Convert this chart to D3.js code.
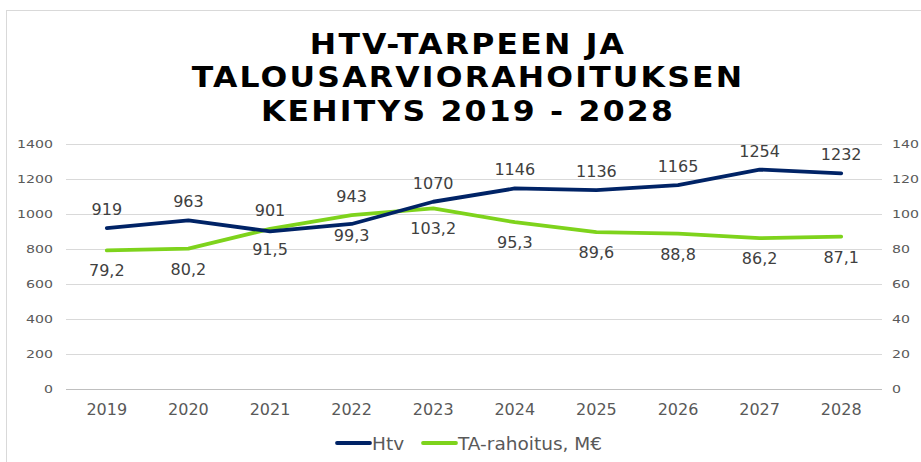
<!DOCTYPE html>
<html>
<head>
<meta charset="utf-8">
<script src="https://cdn.jsdelivr.net/npm/d3@7"></script>
<style>
  body { margin: 0; background: #fff; }
  svg { display: block; }
</style>
</head>
<body>
<div id="chart"></div>
<script>
// Chart data
const years = ['2019', '2020', '2021', '2022', '2023', '2024', '2025', '2026', '2027', '2028'];
const htv = [919, 963, 901, 943, 1070, 1146, 1136, 1165, 1254, 1232];
const taRahoitus = [79.2, 80.2, 91.5, 99.3, 103.2, 95.3, 89.6, 88.8, 86.2, 87.1];
const leftTicks = [0, 200, 400, 600, 800, 1000, 1200, 1400];
const rightTicks = [0, 20, 40, 60, 80, 100, 120, 140];
const titleLines = ['HTV-TARPEEN JA', 'TALOUSARVIORAHOITUKSEN', 'KEHITYS 2019 - 2028'];
const seriesNames = ['Htv', 'TA-rahoitus, M€'];

const colors = { htv: '#002366', ta: '#7ED31C' };
const width = 921, height = 462;
const margin = { left: 66, right: 39, top: 144, bottom: 73 };
const font = '"DejaVu Sans", Verdana, sans-serif';

const svg = d3.select('#chart').append('svg')
    .attr('width', width)
    .attr('height', height);

// Outer frame
svg.append('rect')
    .attr('x', 6.5).attr('y', 10.5)
    .attr('width', 930).attr('height', 470)
    .attr('fill', 'none')
    .attr('stroke', '#d9d9d9');

// Title (widened, spaced letters like the original)
svg.append('g')
    .attr('transform', 'translate(468,0) scale(1.105,1)')
    .selectAll('text')
    .data(titleLines)
    .join('text')
    .attr('x', 0)
    .attr('y', (d, i) => 54 + i * 33.5)
    .attr('text-anchor', 'middle')
    .style('font-family', font)
    .style('font-weight', 'bold')
    .style('font-size', '28.5px')
    .style('letter-spacing', '2px')
    .style('fill', '#000')
    .text(d => d);

const x = d3.scaleBand()
    .domain(years)
    .range([margin.left, width - margin.right]);

const yLeft = d3.scaleLinear().domain([0, 1400]).range([height - margin.bottom, margin.top]);
const yRight = d3.scaleLinear().domain([0, 140]).range([height - margin.bottom, margin.top]);

// Gridlines
svg.append('g')
    .selectAll('line')
    .data(leftTicks)
    .join('line')
    .attr('x1', margin.left)
    .attr('x2', width - margin.right)
    .attr('y1', d => Math.round(yLeft(d)) + 0.5)
    .attr('y2', d => Math.round(yLeft(d)) + 0.5)
    .attr('stroke', d => d === 0 ? '#bfbfbf' : '#d9d9d9')
    .attr('stroke-width', 1.2);

// Left axis
const leftAxis = svg.append('g')
    .attr('transform', `translate(${margin.left - 13},0)`)
    .call(d3.axisLeft(yLeft).tickValues(leftTicks).tickFormat(d3.format('d')).tickSize(0).tickPadding(0));
leftAxis.select('.domain').remove();
leftAxis.selectAll('text')
    .attr('transform', 'scale(1.35,1)')
    .style('font-family', font)
    .style('font-size', '10.5px')
    .style('fill', '#595959');

// Right axis
const rightAxis = svg.append('g')
    .attr('transform', `translate(${width - margin.right + 10},0)`)
    .call(d3.axisRight(yRight).tickValues(rightTicks).tickFormat(d3.format('d')).tickSize(0).tickPadding(0));
rightAxis.select('.domain').remove();
rightAxis.selectAll('text')
    .attr('transform', 'scale(1.35,1)')
    .style('font-family', font)
    .style('font-size', '10.5px')
    .style('fill', '#595959');

// Bottom axis
const bottomAxis = svg.append('g')
    .attr('transform', `translate(0,${height - margin.bottom})`)
    .call(d3.axisBottom(x).tickSize(0).tickPadding(14.5));
bottomAxis.select('.domain').remove();
bottomAxis.selectAll('text')
    .style('font-family', font)
    .style('font-size', '16px')
    .style('fill', '#595959');

const cx = d => x(d) + x.bandwidth() / 2;

// Lines
const htvLine = d3.line()
    .x((d, i) => cx(years[i]))
    .y(d => yLeft(d));
const taLine = d3.line()
    .x((d, i) => cx(years[i]))
    .y(d => yRight(d));

svg.append('path')
    .datum(taRahoitus)
    .attr('d', taLine)
    .attr('fill', 'none')
    .attr('stroke', colors.ta)
    .attr('stroke-width', 3.8)
    .attr('stroke-linejoin', 'round')
    .attr('stroke-linecap', 'round');

svg.append('path')
    .datum(htv)
    .attr('d', htvLine)
    .attr('fill', 'none')
    .attr('stroke', colors.htv)
    .attr('stroke-width', 3.8)
    .attr('stroke-linejoin', 'round')
    .attr('stroke-linecap', 'round');

// Data labels: Htv above, TA-rahoitus below
svg.append('g')
    .selectAll('text')
    .data(htv)
    .join('text')
    .attr('x', (d, i) => cx(years[i]))
    .attr('y', (d, i) => Math.min(yLeft(d), yRight(taRahoitus[i])) - 13)
    .attr('text-anchor', 'middle')
    .style('font-family', font)
    .style('font-size', '16px')
    .style('fill', '#404040')
    .text(d => d);

svg.append('g')
    .selectAll('text')
    .data(taRahoitus)
    .join('text')
    .attr('x', (d, i) => cx(years[i]))
    .attr('y', (d, i) => yRight(d) + 26)
    .attr('text-anchor', 'middle')
    .style('font-family', font)
    .style('font-size', '16px')
    .style('fill', '#404040')
    .text(d => d.toFixed(1).replace('.', ','));

// Legend
const legend = svg.append('g').attr('transform', 'translate(337,443)');
const legendItems = [
    { name: seriesNames[0], color: colors.htv, x: 0 },
    { name: seriesNames[1], color: colors.ta, x: 86 }
];
const li = legend.selectAll('g')
    .data(legendItems)
    .join('g')
    .attr('transform', d => `translate(${d.x},0)`);
li.append('line')
    .attr('x1', 0).attr('x2', 33)
    .attr('y1', 0).attr('y2', 0)
    .attr('stroke', d => d.color)
    .attr('stroke-width', 3.8)
    .attr('stroke-linecap', 'round');
li.append('text')
    .attr('x', 35)
    .attr('y', 6.5)
    .style('font-family', font)
    .style('font-size', '18.5px')
    .style('fill', '#595959')
    .text(d => d.name);
</script>
</body>
</html>
